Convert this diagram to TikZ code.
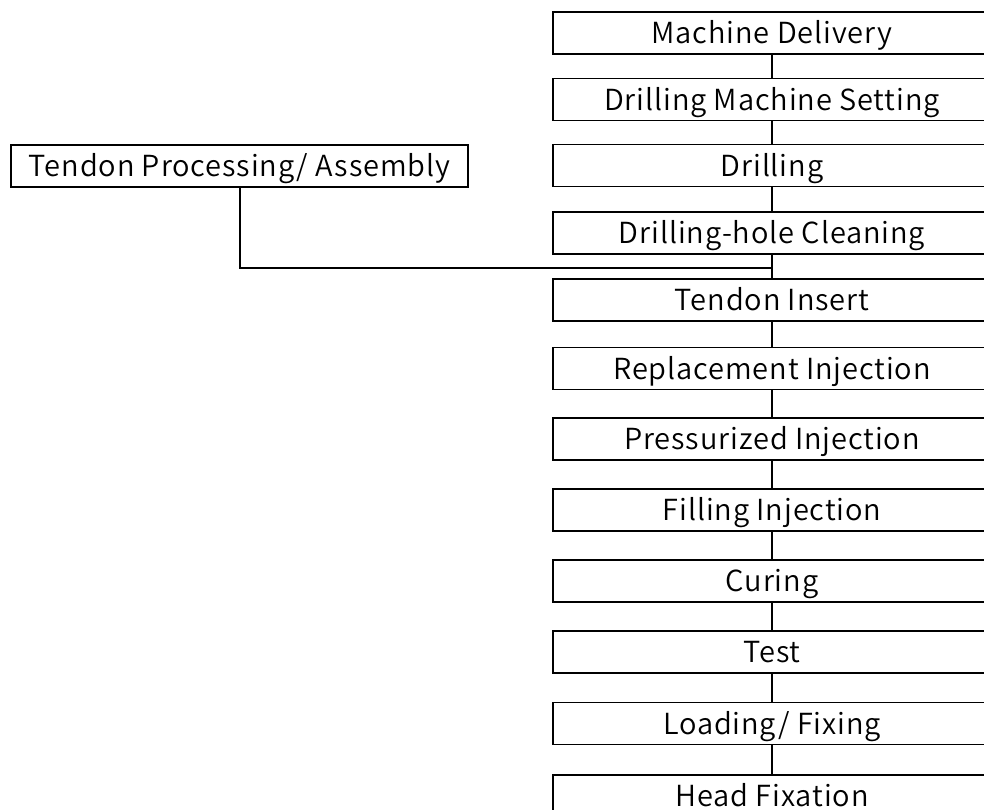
\documentclass[tikz,border=0pt]{standalone}
\usepackage{fontspec}
\setmainfont{Noto Sans CJK JP DemiLight}[LetterSpace=3]
\begin{document}
\begin{tikzpicture}[x=1pt,y=-1pt,
  line width=1.3pt,
  boxtext/.style={font=\fontsize{29}{32}\selectfont, text height=21.3pt, text depth=0pt},
  stepbox/.style={draw, rectangle, inner sep=0pt, minimum width=438pt,
    minimum height=42pt, boxtext},
  sidebox/.style={draw, rectangle, inner sep=0pt, minimum width=457pt,
    minimum height=42pt, boxtext},
  link/.style={draw, line width=1.3pt}]
\useasboundingbox (0,0) rectangle (984,809);
\begin{scope}
\clip (0,0) rectangle (984,809);
% main sequence of work steps
\node[stepbox] (s1)  at (772,33)    {Machine Delivery};
\node[stepbox] (s2)  at (772,99.5)  {Drilling Machine Setting};
\node[stepbox] (s3)  at (772,165.5) {Drilling};
\node[stepbox] (s4)  at (772,233)   {Drilling-hole Cleaning};
\node[stepbox] (s5)  at (772,300)   {Tendon Insert};
\node[stepbox] (s6)  at (772,368.5) {Replacement Injection};
\node[stepbox] (s7)  at (772,439)   {Pressurized Injection};
\node[stepbox] (s8)  at (772,510)   {Filling Injection};
\node[stepbox] (s9)  at (772,581)   {Curing};
\node[stepbox] (s10) at (772,652)   {Test};
\node[stepbox] (s11) at (772,723.5) {Loading/ Fixing};
\node[stepbox] (s12) at (772,796)   {Head Fixation};
% parallel preparation of the tendon
\node[sidebox] (tp) at (239.5,166) {Tendon Processing/ Assembly};
\coordinate (join) at (772,268);
\foreach \a/\b in {s1/s2,s2/s3,s3/s4,s4/s5,s5/s6,s6/s7,s7/s8,s8/s9,s9/s10,s10/s11,s11/s12}
  \draw[link] (\a) -- (\b);
\draw[link] (tp.south -| 240,0) |- (join);
\end{scope}
\end{tikzpicture}
\end{document}
